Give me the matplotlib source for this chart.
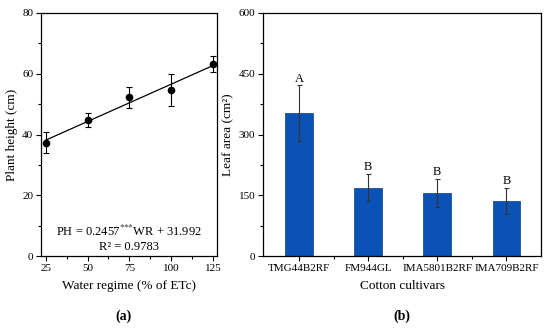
import numpy as np
import matplotlib.pyplot as plt
from matplotlib.ticker import MultipleLocator, FixedLocator

plt.rcParams['font.family'] = ['Liberation Serif', 'DejaVu Serif']
plt.rcParams['mathtext.fontset'] = 'stix'

# panel (a): plant height vs water regime
water = [25, 50, 75, 100, 125]
height = [37.3, 44.8, 52.3, 54.7, 63.2]
height_err = [3.5, 2.4, 3.5, 5.3, 2.5]
slope, intercept = 0.2457, 31.992

# panel (b): leaf area by cultivar
cultivars = ['TMG44B2RF', 'FM944GL', 'IMA5801B2RF', 'IMA709B2RF']
leaf_area = [353, 169, 156, 136]
leaf_err = [68, 33, 35, 33]
letters = ['A', 'B', 'B', 'B']

fig = plt.figure(figsize=(5.5, 3.3), dpi=100)
ax1 = fig.add_axes([41/550, 1 - 256/330, 176/550, 243/330])
ax2 = fig.add_axes([263/550, 1 - 256/330, 278/550, 243/330])

tick_fs = 8
lab_fs = 9.5

# --- (a)
xs = np.array([water[0], water[-1]])
ax1.plot(xs, slope * xs + intercept, color='black', lw=0.9)
ax1.errorbar(water, height, yerr=height_err, fmt='o', color='black',
             ms=4.5, elinewidth=0.8, capsize=2, capthick=0.8)
ax1.set_xlim(22.2, 127.4)
ax1.set_ylim(0, 80)
ax1.xaxis.set_major_locator(FixedLocator(water))
ax1.xaxis.set_minor_locator(FixedLocator([37.5, 62.5, 87.5, 112.5]))
ax1.yaxis.set_major_locator(MultipleLocator(20))
ax1.yaxis.set_minor_locator(MultipleLocator(10))
ax1.set_xlabel('Water regime (% of ETc)', fontsize=lab_fs, labelpad=5)
ax1.set_ylabel('Plant height (cm)', fontsize=lab_fs, labelpad=3)
ax1.text(0.5, 0.099, 'PH = 0.2457$^{{*}{*}{*}}$WR + 31.992', transform=ax1.transAxes,
         ha='center', va='center', fontsize=9)
ax1.text(0.5, 0.035, 'R² = 0.9783', transform=ax1.transAxes,
         ha='center', va='center', fontsize=9)

# --- (b)
pos = np.arange(len(cultivars))
ax2.bar(pos, leaf_area, width=0.4, color='#0a52b5', edgecolor='#083f8c', lw=0.5)
ax2.errorbar(pos, leaf_area, yerr=leaf_err, fmt='none', ecolor='#333333',
             elinewidth=0.8, capsize=1.8, capthick=0.8)
for p, v, e, t in zip(pos, leaf_area, leaf_err, letters):
    ax2.text(p, v + e + 2, t, ha='center', va='bottom', fontsize=9)
ax2.set_xlim(-0.52, 3.5)
ax2.set_ylim(0, 600)
ax2.set_xticks(pos)
ax2.set_xticklabels(cultivars)
ax2.xaxis.set_minor_locator(FixedLocator([0.5, 1.5, 2.5]))
ax2.yaxis.set_major_locator(MultipleLocator(150))
ax2.yaxis.set_minor_locator(MultipleLocator(75))
ax2.set_xlabel('Cotton cultivars', fontsize=lab_fs, labelpad=5)
ax2.set_ylabel('Leaf area (cm²)', fontsize=lab_fs, labelpad=3)

for ax in (ax1, ax2):
    ax.tick_params(which='major', direction='out', length=3.5, width=0.8,
                   labelsize=tick_fs, pad=2)
    ax.tick_params(which='minor', direction='out', length=2, width=0.8)
    for s in ax.spines.values():
        s.set_linewidth(0.9)

fig.text(123/550, 1 - 316/330, '(a)', ha='center', va='center',
         fontsize=10, fontweight='bold')
fig.text(402/550, 1 - 316/330, '(b)', ha='center', va='center',
         fontsize=10, fontweight='bold')

fig.savefig('out.png', dpi=100)
